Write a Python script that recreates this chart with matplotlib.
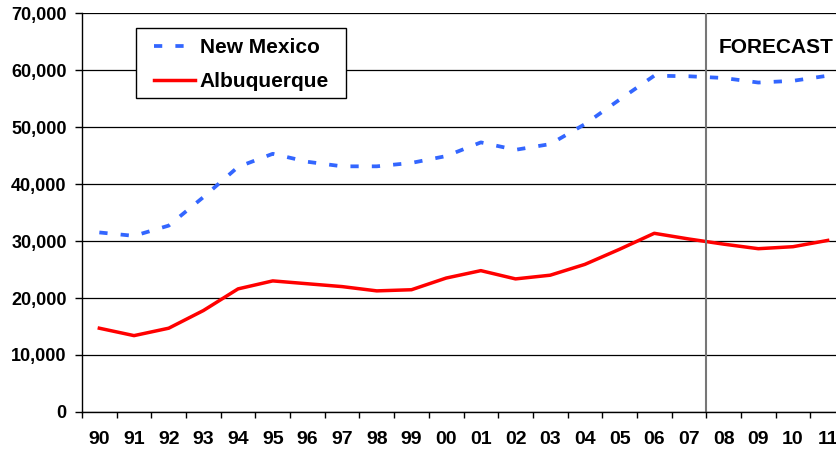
import matplotlib
matplotlib.rcParams.update({'font.family': 'Liberation Sans', 'font.weight': 'bold'})

from matplotlib import pyplot as plt
from matplotlib.patches import Rectangle
from matplotlib.ticker import FuncFormatter, FixedLocator
import numpy as np

years = ['90', '91', '92', '93', '94', '95', '96', '97', '98', '99', '00',
         '01', '02', '03', '04', '05', '06', '07', '08', '09', '10', '11']
new_mexico = [31500, 30900, 32700, 37700, 43000, 45300, 43900, 43100, 43100, 43700,
              44900, 47300, 46000, 47000, 50500, 54800, 59000, 58900, 58600, 57800,
              58100, 59000]
albuquerque = [14700, 13400, 14700, 17800, 21600, 23000, 22500, 22000, 21250, 21450,
               23500, 24800, 23350, 24000, 25900, 28550, 31350, 30350, 29450, 28650,
               29000, 30100]

x = np.arange(len(years))

fig = plt.figure(figsize=(8.36, 4.54), dpi=100)
ax = fig.add_axes([82/836, 42/454, 763/836, 399/454])

ax.plot(x, new_mexico, color='#3366ff', lw=2.7, dashes=(2.2, 3.5), label='New Mexico')
ax.plot(x, albuquerque, color='#ff0000', lw=2.5, label='Albuquerque')

ax.set_xlim(-0.5, len(years) - 0.5)
ax.set_ylim(0, 70000)
ax.set_yticks(np.arange(0, 70001, 10000))
ax.yaxis.set_major_formatter(FuncFormatter(lambda v, p: '{:,.0f}'.format(v)))
ax.grid(axis='y', color='black', lw=0.9)
ax.set_axisbelow(True)

ax.set_xticks(x)
ax.set_xticklabels(years)
ax.xaxis.set_minor_locator(FixedLocator(np.arange(-0.5, len(years), 1)))
ax.tick_params(axis='x', which='major', length=0, pad=14, labelsize=14)
ax.tick_params(axis='x', which='minor', length=4, width=1, direction='out')
ax.tick_params(axis='y', length=5, width=1, pad=6, labelsize=13)

for s in ['top', 'right']:
    ax.spines[s].set_visible(False)
ax.spines['left'].set_linewidth(1)
ax.spines['bottom'].set_linewidth(1)

# forecast divider
ax.axvline(17.5, color='#777777', lw=1.5)
ax.text(17.85, 64000, 'FORECAST', fontsize=15, fontweight='bold', va='center', ha='left')

# legend box drawn by hand, legend itself without frame
ax.add_patch(Rectangle((54/763, 314/399), 210/763, 70/399, transform=ax.transAxes,
                       facecolor='white', edgecolor='black', lw=1, zorder=4))
leg = ax.legend(loc='upper left', bbox_to_anchor=(72/763, 374/399), fontsize=15,
                frameon=False, handlelength=1.95, borderpad=0, labelspacing=0.74,
                handletextpad=0.25, borderaxespad=0)
leg.set_zorder(5)

plt.savefig('out.png', dpi=100)
